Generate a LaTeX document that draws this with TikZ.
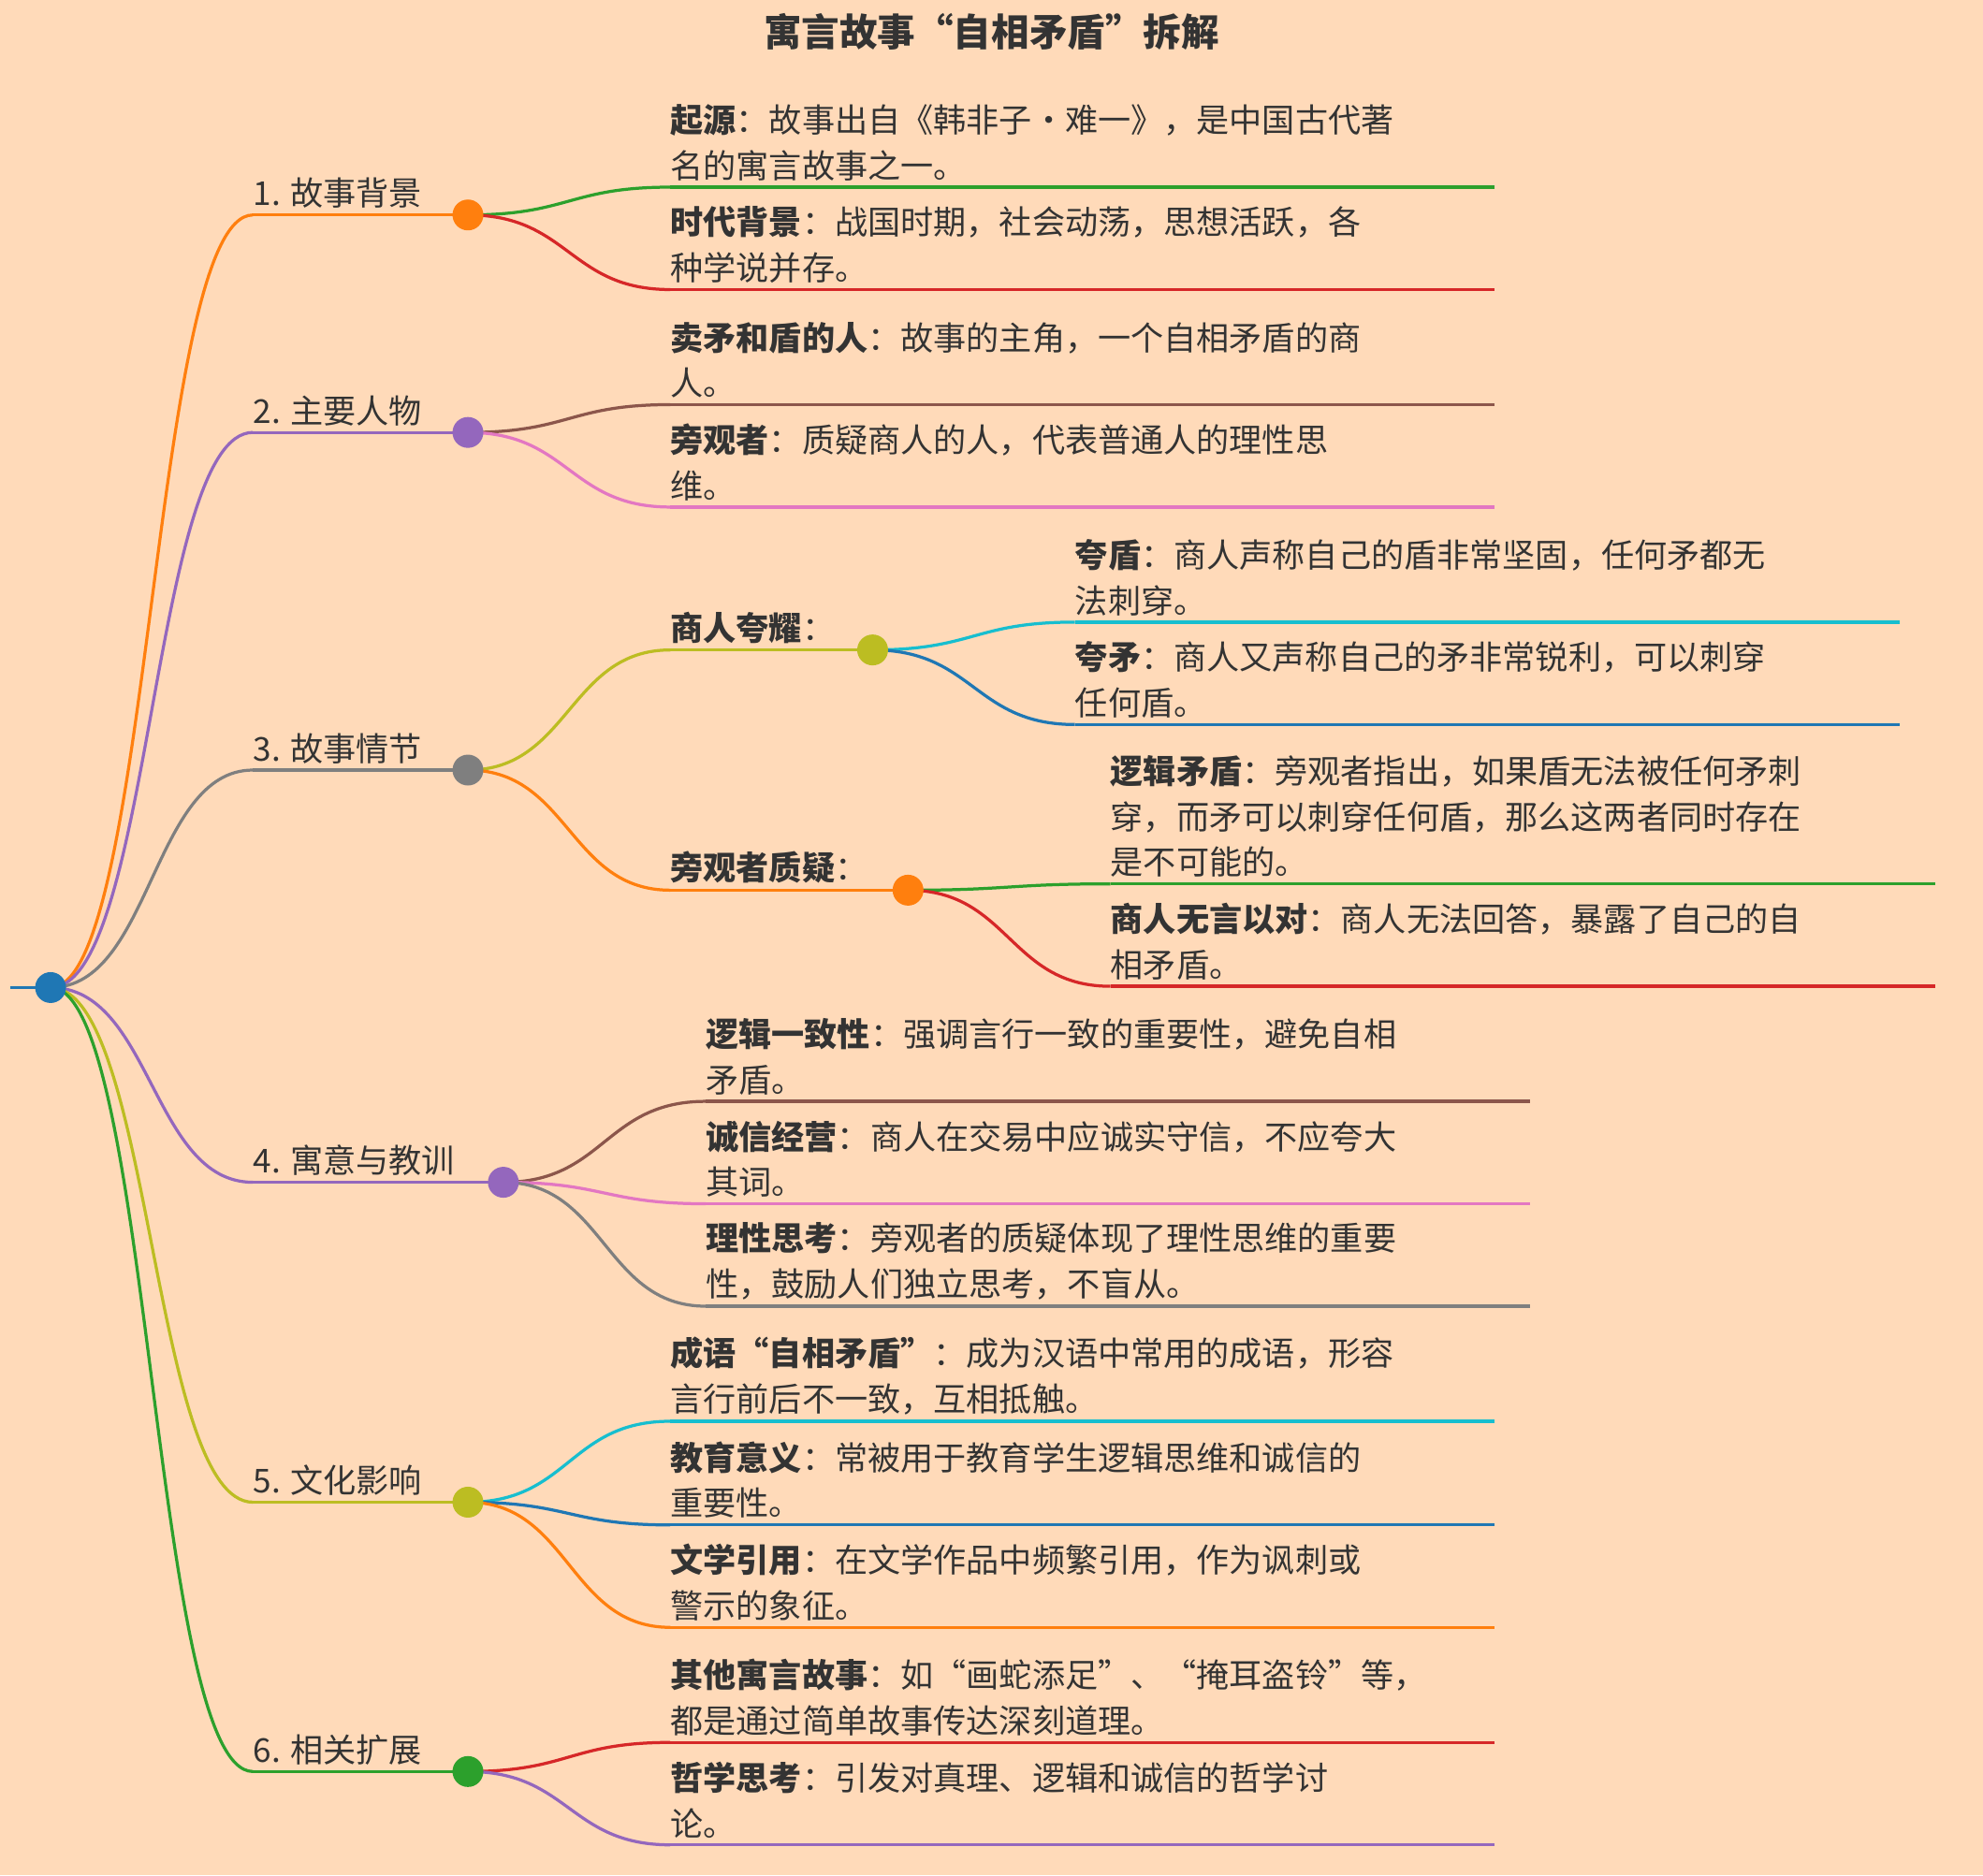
\documentclass[tikz,border=0pt]{standalone}
\usepackage{fontspec}
\setmainfont{Noto Sans CJK SC}
\usetikzlibrary{calc}
\definecolor{bg}{HTML}{FFDAB9}
\definecolor{cB}{HTML}{1F77B4}\definecolor{cO}{HTML}{FF7F0E}\definecolor{cG}{HTML}{2CA02C}
\definecolor{cR}{HTML}{D62728}\definecolor{cP}{HTML}{9467BD}\definecolor{cBr}{HTML}{8C564B}
\definecolor{cPk}{HTML}{E377C2}\definecolor{cGr}{HTML}{7F7F7F}\definecolor{cOl}{HTML}{BCBD22}
\definecolor{cC}{HTML}{17BECF}\definecolor{tx}{HTML}{333333}
\tikzset{link/.style={line width=2.4pt},
 txt/.style={text=tx,font=\fontsize{26}{36}\selectfont,align=left,inner sep=0pt},
 dot/.style={circle,draw,line width=2.4pt,fill=white,minimum size=22pt,inner sep=0pt}}
% name color x0 x1 y text
\newcommand\leaf[6]{\coordinate (#1s) at (#3,#5); \coordinate (#1e) at (#4,#5);
 \draw[#2,link] (#1s) -- (#1e);
 \node[txt,anchor=south west] (#1) at (#3,#5-5) {#6};}
% color px py cx cy
\newcommand\conn[5]{\draw[#1,link] (#2,#3) .. controls ({(#2+#4)/2},#3) and ({(#2+#4)/2},#5) .. (#4,#5);}
\begin{document}
\begin{tikzpicture}[x=1pt,y=-1pt]
\fill[bg] (0,0) rectangle (1568,1483);
\useasboundingbox (0,0) rectangle (1568,1483);
\node[txt,font=\fontsize{30}{36}\selectfont\bfseries] (title) at (784,25) {寓言故事“自相矛盾”拆解};
% root
\coordinate (rl) at (8,781);
\draw[cB,link] (rl) -- (40,781);
% level1
\conn{cO}{40}{781}{200}{170}\conn{cP}{40}{781}{200}{342}\conn{cGr}{40}{781}{200}{609}
\conn{cP}{40}{781}{200}{935}\conn{cOl}{40}{781}{200}{1188}\conn{cG}{40}{781}{200}{1401}
\leaf{a}{cO}{200}{370}{170}{1. 故事背景}
\leaf{b}{cP}{200}{370}{342}{2. 主要人物}
\leaf{c}{cGr}{200}{370}{609}{3. 故事情节}
\leaf{d}{cP}{200}{398}{935}{4. 寓意与教训}
\leaf{e}{cOl}{200}{370}{1188}{5. 文化影响}
\leaf{f}{cG}{200}{370}{1401}{6. 相关扩展}
% 1
\conn{cG}{370}{170}{530}{148}\conn{cR}{370}{170}{530}{229}
\leaf{a1}{cG}{530}{1182}{148}{\textbf{起源}：故事出自《韩非子·难一》，是中国古代著\\名的寓言故事之一。}
\leaf{a2}{cR}{530}{1182}{229}{\textbf{时代背景}：战国时期，社会动荡，思想活跃，各\\种学说并存。}
% 2
\conn{cBr}{370}{342}{530}{320}\conn{cPk}{370}{342}{530}{401}
\leaf{b1}{cBr}{530}{1182}{320}{\textbf{卖矛和盾的人}：故事的主角，一个自相矛盾的商\\人。}
\leaf{b2}{cPk}{530}{1182}{401}{\textbf{旁观者}：质疑商人的人，代表普通人的理性思\\维。}
% 3
\conn{cOl}{370}{609}{530}{514}\conn{cO}{370}{609}{530}{704}
\leaf{c1}{cOl}{530}{690}{514}{\textbf{商人夸耀}：}
\leaf{c2}{cO}{530}{718}{704}{\textbf{旁观者质疑}：}
\conn{cC}{690}{514}{850}{492}\conn{cB}{690}{514}{850}{573}
\leaf{c11}{cC}{850}{1502}{492}{\textbf{夸盾}：商人声称自己的盾非常坚固，任何矛都无\\法刺穿。}
\leaf{c12}{cB}{850}{1502}{573}{\textbf{夸矛}：商人又声称自己的矛非常锐利，可以刺穿\\任何盾。}
\conn{cG}{718}{704}{878}{699}\conn{cR}{718}{704}{878}{780}
\leaf{c21}{cG}{878}{1530}{699}{\textbf{逻辑矛盾}：旁观者指出，如果盾无法被任何矛刺\\穿，而矛可以刺穿任何盾，那么这两者同时存在\\是不可能的。}
\leaf{c22}{cR}{878}{1530}{780}{\textbf{商人无言以对}：商人无法回答，暴露了自己的自\\相矛盾。}
% 4
\conn{cBr}{398}{935}{558}{871}\conn{cPk}{398}{935}{558}{952}\conn{cGr}{398}{935}{558}{1033}
\leaf{d1}{cBr}{558}{1210}{871}{\textbf{逻辑一致性}：强调言行一致的重要性，避免自相\\矛盾。}
\leaf{d2}{cPk}{558}{1210}{952}{\textbf{诚信经营}：商人在交易中应诚实守信，不应夸大\\其词。}
\leaf{d3}{cGr}{558}{1210}{1033}{\textbf{理性思考}：旁观者的质疑体现了理性思维的重要\\性，鼓励人们独立思考，不盲从。}
% 5
\conn{cC}{370}{1188}{530}{1124}\conn{cB}{370}{1188}{530}{1206}\conn{cO}{370}{1188}{530}{1287}
\leaf{e1}{cC}{530}{1182}{1124}{\textbf{成语“自相矛盾”}：成为汉语中常用的成语，形容\\言行前后不一致，互相抵触。}
\leaf{e2}{cB}{530}{1182}{1206}{\textbf{教育意义}：常被用于教育学生逻辑思维和诚信的\\重要性。}
\leaf{e3}{cO}{530}{1182}{1287}{\textbf{文学引用}：在文学作品中频繁引用，作为讽刺或\\警示的象征。}
% 6
\conn{cR}{370}{1401}{530}{1378}\conn{cP}{370}{1401}{530}{1459}
\leaf{f1}{cR}{530}{1182}{1378}{\textbf{其他寓言故事}：如“画蛇添足”、“掩耳盗铃”等，\\都是通过简单故事传达深刻道理。}
\leaf{f2}{cP}{530}{1182}{1459}{\textbf{哲学思考}：引发对真理、逻辑和诚信的哲学讨\\论。}
% circles
\node[dot,cB] (root) at (40,781) {};
\node[dot,cO] (ad) at (ae) {};
\node[dot,cP] (bd) at (be) {};
\node[dot,cGr] (cd) at (ce) {};
\node[dot,cP] (dd) at (de) {};
\node[dot,cOl] (ed) at (ee) {};
\node[dot,cG] (fd) at (fe) {};
\node[dot,cOl] (c1d) at (c1e) {};
\node[dot,cO] (c2d) at (c2e) {};
\end{tikzpicture}
\end{document}
